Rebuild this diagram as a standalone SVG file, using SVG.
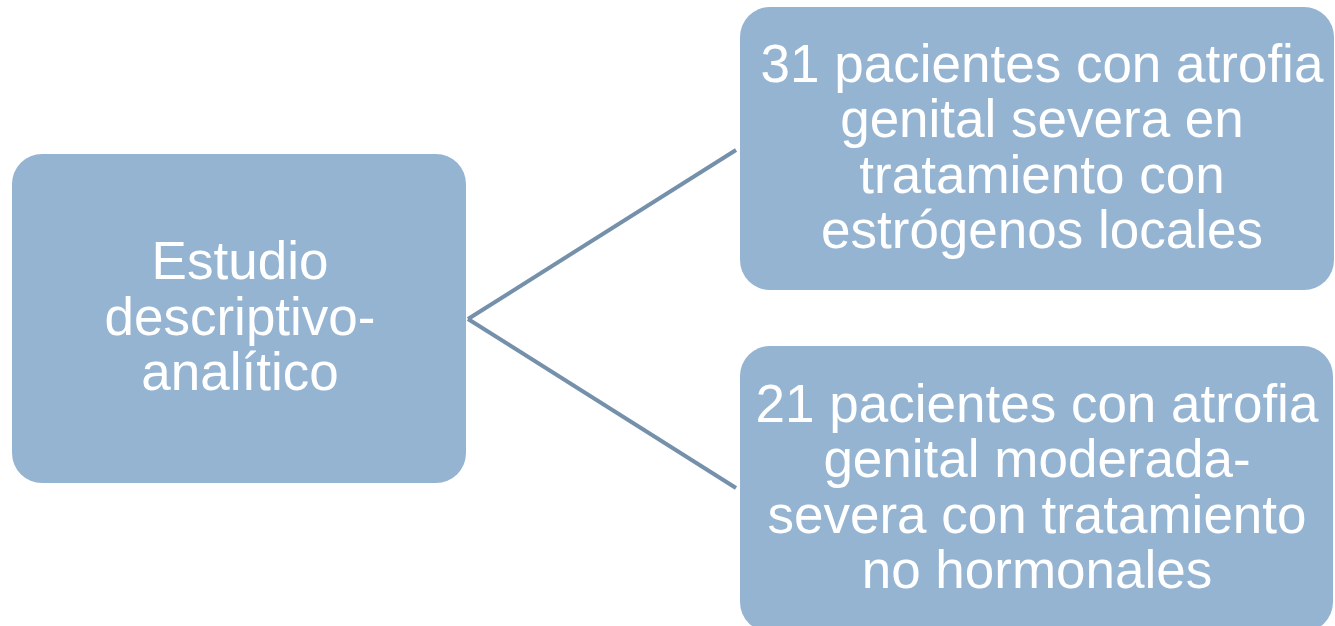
<svg xmlns="http://www.w3.org/2000/svg" width="1335" height="626" viewBox="0 0 1335 626">
<style>
.box{fill:#95b4d2;}
.t{font-family:"Liberation Sans",Arial,sans-serif;font-size:53px;fill:#ffffff;text-anchor:middle;}
.c{stroke:#7490aa;stroke-width:4;fill:none;}
</style>
<rect width="1335" height="626" fill="#ffffff"/>
<g id="connectors">
<line class="c" x1="468" y1="319" x2="736" y2="150"/>
<line class="c" x1="468" y1="319" x2="736" y2="488"/>
</g>
<g id="node-estudio">
<rect class="box" x="12" y="154" width="454" height="329" rx="30" ry="30"/>
<text class="t" x="240" y="279">Estudio</text>
<text class="t" x="240" y="335">descriptivo-</text>
<text class="t" x="240" y="390">analítico</text>
</g>
<g id="node-31">
<rect class="box" x="740" y="7" width="594" height="283" rx="30" ry="30"/>
<text class="t" x="1042" y="82">31 pacientes con atrofia</text>
<text class="t" x="1042" y="137">genital severa en</text>
<text class="t" x="1042" y="193">tratamiento con</text>
<text class="t" x="1042" y="248">estrógenos locales</text>
</g>
<g id="node-21">
<rect class="box" x="740" y="346" width="593" height="286" rx="30" ry="30"/>
<text class="t" x="1037" y="422">21 pacientes con atrofia</text>
<text class="t" x="1037" y="477">genital moderada-</text>
<text class="t" x="1037" y="533">severa con tratamiento</text>
<text class="t" x="1037" y="588">no hormonales</text>
</g>
</svg>
